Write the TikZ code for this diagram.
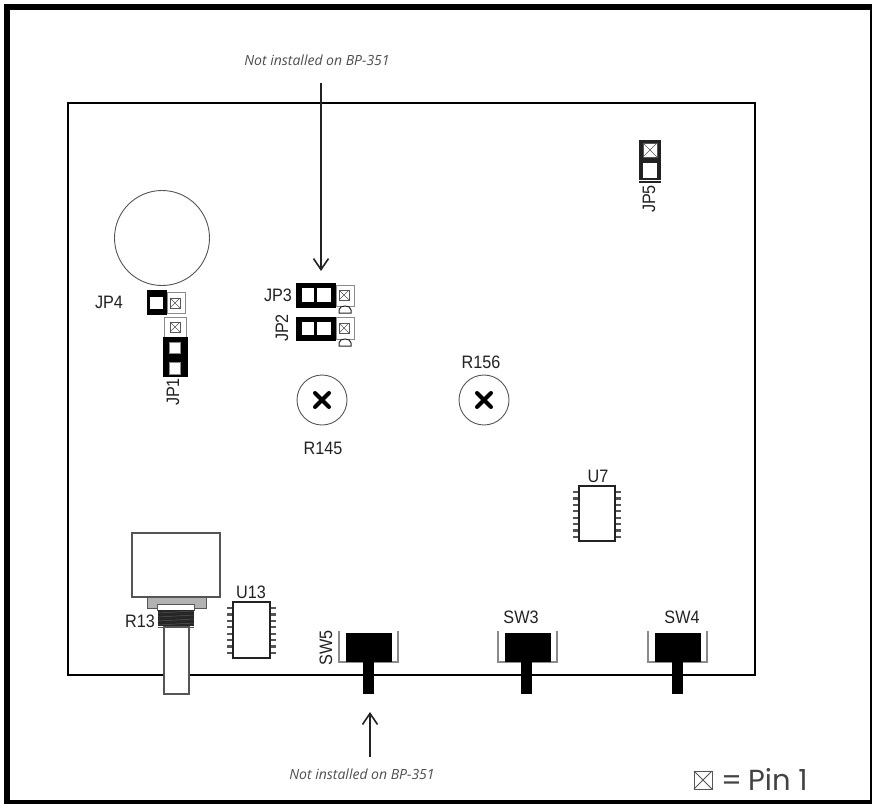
\documentclass[tikz,border=0pt]{standalone}
\usepackage{fontspec}
\setmainfont{Liberation Sans}
\newfontfamily\gothic{Poppins}
\newfontfamily\noteface{Open Sans}
\usetikzlibrary{arrows.meta}
\definecolor{ink}{HTML}{222222}
\definecolor{edge}{HTML}{555555}
\definecolor{pinedge}{HTML}{8A8A8A}
\newcommand{\narrow}[1]{\scalebox{.9}[1]{#1}}
\tikzset{
  x=1pt,y=-1pt,
  lbl/.style={inner sep=0pt,text=ink,font=\fontsize{18}{18}\selectfont,xscale=.9},
  rotlbl/.style={inner sep=0pt,text=ink,font=\fontsize{18}{18}\selectfont,rotate=90},
  note/.style={inner sep=0pt,text=ink!80,font=\noteface\itshape\fontsize{14}{14}\selectfont},
  blk/.style={fill=black,draw=none},
  hole/.style={fill=white,draw=none},
  holeg/.style={fill=white,draw=pinedge,line width=1pt},
  pinbox/.style={fill=white,draw=pinedge,line width=1pt},
  xbox/.style={draw=edge,fill=white,line width=.8pt},
  xcross/.style={draw=edge,line width=.6pt},
  chip/.style={draw=ink,fill=white,line width=2.2pt},
  chippin/.style={draw=edge,line width=2.2pt},
  swbr/.style={draw=pinedge,line width=1.2pt},
  pointer/.style={draw=ink,line width=1.6pt,-{Straight Barb[length=11pt,width=15pt,line width=1.6pt]}},
  trim/.style={draw=black,line width=1.8pt,line cap=round}
}
\newcommand{\xsq}[4][10]{% size, name, x, y
  \path[xbox] (#3-#1/2,#4-#1/2) rectangle (#3+#1/2,#4+#1/2);
  \path[xcross] (#3-#1/2,#4-#1/2) -- (#3+#1/2,#4+#1/2) (#3-#1/2,#4+#1/2) -- (#3+#1/2,#4-#1/2);
  \coordinate (#2) at (#3,#4);
}
\newcommand{\dshape}[2]{% cx, top y
  \path[draw=ink,fill=white,line width=1pt] (#1-6,#2+7) -- (#1-6,#2+4) .. controls (#1-6,#2+1) and (#1-3,#2) .. (#1,#2) .. controls (#1+3,#2) and (#1+6,#2+1) .. (#1+6,#2+4) -- (#1+6,#2+7) -- cycle;
}
\newcommand{\chipat}[6]{% left,right,top,bottom,firstpin,lastpin
  \foreach \i in {0,...,7}{
    \pgfmathsetmacro{\py}{#5+\i*(#6-#5)/7}
    \path[chippin] (#1-6,\py) -- (#1,\py) (#2,\py) -- (#2+6,\py);
  }
  \path[chip] (#1,#3) rectangle (#2,#4);
}
\newcommand{\switchat}[3]{% bracket left, cx of black, stem cx
  \path[swbr] (#1,631) -- (#1,662) -- (#1+59,662) -- (#1+59,631);
  \path[blk] (#1+7,633) rectangle (#1+53,662);
  \path[blk] (#3-5.5,662) rectangle (#3+5.5,694);
}
\begin{document}
\begin{tikzpicture}
\useasboundingbox (0,0) rectangle (872,803);
\fill[white] (0,0) rectangle (872,803);
\begin{scope}
\clip (0,0) rectangle (872,803);
\draw[black,line width=6pt] (7,7) rectangle (873,803);
\end{scope}
% board
\draw[black,line width=2.4pt] (68,103) rectangle (755,675);
% large circle
\draw[edge,line width=.9pt] (162,238) circle (47.5);
% JP4
\path[pinbox] (167,292) rectangle (185,313);
\path[blk] (147,290) rectangle (167,315);
\path[hole] (150,297) rectangle (163,309);
\xsq{jpfour}{175}{303}
\node[lbl] (JP4) at (109,302) {JP4};
% JP1
\path[pinbox] (164,317) rectangle (186,337);
\xsq{jpone}{175}{327}
\path[blk] (163,337) rectangle (188,377);
\path[holeg] (169,342) rectangle (180,353);
\path[holeg] (169,362) rectangle (180,374);
\node[rotlbl] (JP1) at (173,392) {\narrow{JP1}};
% JP3
\path[pinbox] (336,285) rectangle (354,306);
\xsq{jpthree}{344}{295}
\path[blk] (296,283) rectangle (336,308);
\path[hole] (302,288) rectangle (314,302);
\path[hole] (317,288) rectangle (331,302);
\dshape{345}{306}
\node[lbl] (JP3) at (278,295) {JP3};
% JP2
\path[pinbox] (336,317) rectangle (354,339);
\xsq{jptwo}{344}{328}
\path[blk] (296,317) rectangle (336,341);
\path[hole] (302,322) rectangle (314,335);
\path[hole] (317,322) rectangle (331,335);
\dshape{345}{339}
\node[rotlbl] (JP2) at (282,328) {\narrow{JP2}};
% JP5
\path[fill=ink] (639,140) rectangle (661,183);
\path[hole] (643,163) rectangle (657,178);
\path[fill=white] (639,179.5) rectangle (661,181);
\xsq[14]{jpfive}{650}{150}
\node[rotlbl] (JP5) at (649,199) {\narrow{JP5}};
% trimmers
\path[draw=edge,fill=white,line width=.9pt] (322,400) circle (25);
\draw[trim,line width=4pt] (315,393) -- (329,407) (315,407) -- (329,393);
\path[draw=edge,fill=white,line width=.9pt] (484,400) circle (25);
\draw[trim,line width=4pt] (477,393) -- (491,407) (477,407) -- (491,393);
\node[lbl] (R145) at (323,448) {R145};
\node[lbl] (R156) at (481,362) {R156};
% U7
\chipat{579}{615}{486}{541}{492}{537}
\node[lbl] (U7) at (598,476) {U7};
% U13
\chipat{233}{270}{602}{658}{608}{653}
\node[lbl] (U13) at (251,592) {U13};
% pot
\path[draw=edge,fill=white,line width=1.2pt] (132,533) rectangle (220,597);
\path[draw=edge,fill=black!30,line width=1pt] (147,597) rectangle (206,608);
\path[draw=edge,fill=white,line width=1pt] (157,604) rectangle (194,610);
\path[fill=black!85] (158,610) rectangle (194,626);
\foreach \yy in {612,616,620,624}{\draw[edge,line width=.5pt] (158,\yy+1) -- (194,\yy-1);}
\path[draw=edge,fill=white,line width=1.1pt] (164,627) rectangle (189,694);
\draw[edge,line width=1pt] (158,627) -- (194,627);
\node[lbl] (R13) at (140,621) {R13};
% switches
\switchat{339}{369}{368}
\switchat{498}{527}{526.5}
\switchat{648}{678}{677.5}
\node[rotlbl] (SW5) at (326,648) {\narrow{SW5}};
\node[lbl] (SW3) at (521,617) {SW3};
\node[lbl] (SW4) at (682,617) {SW4};
% notes and arrows
\node[note] (notetop) at (317,60) {Not installed on BP-351};
\coordinate (topfrom) at (321,83);
\coordinate (topto) at (321,271);
\draw[pointer] (topfrom) -- (topto);
\node[note] (notebot) at (362,774) {Not installed on BP-351};
\coordinate (botfrom) at (370,757);
\coordinate (botto) at (370,712);
\draw[pointer] (botfrom) -- (botto);
% legend
\path[draw=edge,line width=1pt] (694,771) rectangle (712,789);
\path[draw=edge,line width=.8pt] (694,771) -- (712,789) (694,789) -- (712,771);
\node[inner sep=0pt,anchor=base west,text=ink!85,font=\gothic\fontsize{29}{29}\selectfont] (pinone) at (721,790) {=\hspace{6pt}Pin 1};
\end{tikzpicture}
\end{document}
